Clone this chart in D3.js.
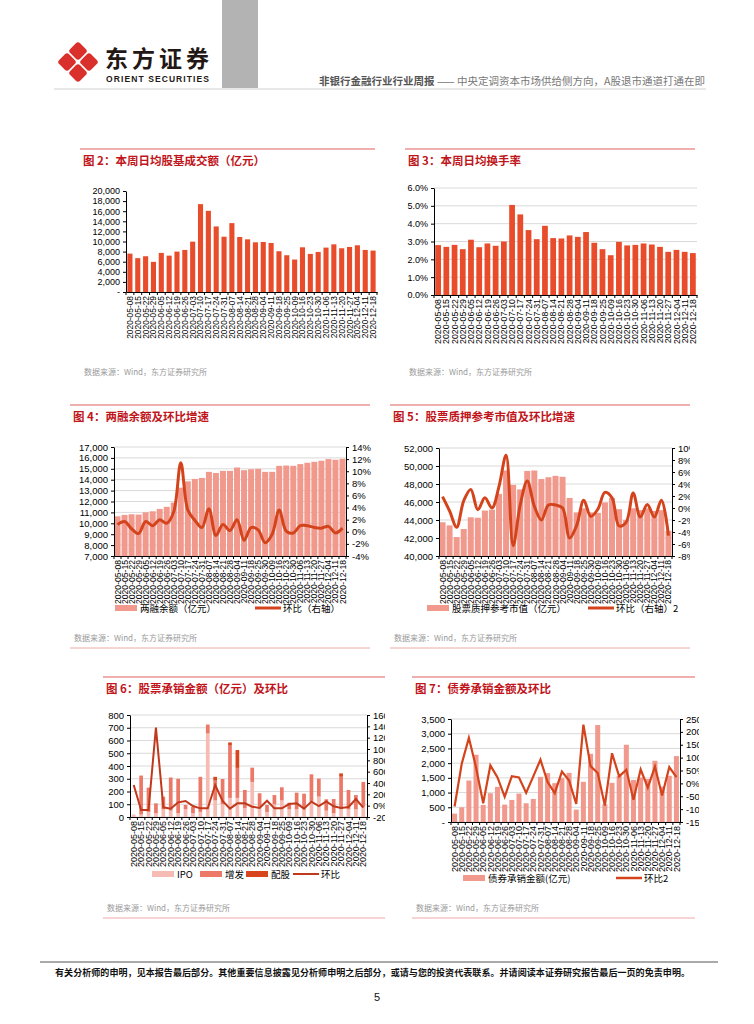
<!DOCTYPE html>
<html>
<head>
<meta charset="utf-8">
<script src="https://cdn.jsdelivr.net/npm/d3@7"></script>
<style>
body { margin: 0; background: #fff; }
</style>
</head>
<body>
<svg id="page" width="754" height="1024"></svg>
<script>
// weekly dates used on the x axes
const weeks = ["2020-05-08", "2020-05-15", "2020-05-22", "2020-05-29", "2020-06-05", "2020-06-12", "2020-06-19", "2020-06-26",
    "2020-07-03", "2020-07-10", "2020-07-17", "2020-07-24", "2020-07-31", "2020-08-07", "2020-08-14", "2020-08-21", "2020-08-28",
    "2020-09-04", "2020-09-11", "2020-09-18", "2020-09-25", "2020-10-09", "2020-10-16", "2020-10-23", "2020-10-30",
    "2020-11-06", "2020-11-13", "2020-11-20", "2020-11-27", "2020-12-04", "2020-12-11", "2020-12-18"];
const weeks33 = ["2020-05-08", "2020-05-15", "2020-05-22", "2020-05-29", "2020-06-05", "2020-06-12", "2020-06-19", "2020-06-26",
    "2020-07-03", "2020-07-10", "2020-07-17", "2020-07-24", "2020-07-31", "2020-08-07", "2020-08-14", "2020-08-21", "2020-08-28",
    "2020-09-04", "2020-09-11", "2020-09-18", "2020-09-25", "2020-09-30", "2020-10-09", "2020-10-16", "2020-10-23", "2020-10-30",
    "2020-11-06", "2020-11-13", "2020-11-20", "2020-11-27", "2020-12-04", "2020-12-11", "2020-12-18"];

// fig 2: daily average turnover (亿元)
const turnover = [7600, 6700, 7080, 5970, 7740, 7200, 8000, 8330, 9970, 17400, 16070, 12980, 10950, 13640, 10890, 10430,
    9840, 9900, 9700, 8070, 7280, 6430, 8850, 7540, 7930, 8790, 9440, 8660, 8920, 9250, 8330, 8200];
// fig 3: daily turnover rate (%)
const turnoverRate = [2.8, 2.7, 2.81, 2.57, 3.1, 2.68, 2.89, 2.76, 3.0, 5.05, 4.52, 3.64, 3.13, 3.88, 3.19, 3.17, 3.34,
    3.26, 3.53, 2.93, 2.57, 2.23, 2.98, 2.78, 2.81, 2.89, 2.83, 2.7, 2.42, 2.53, 2.42, 2.35];
// fig 4: margin balance (亿元) and week-on-week change (%)
const marginBal = [10640, 10770, 10830, 10800, 11010, 11100, 11320, 11510, 11900, 13270, 13850, 14070, 14160, 14720, 14620,
    14810, 14810, 15120, 14870, 14960, 14990, 14720, 14720, 15270, 15300, 15270, 15430, 15550, 15640, 15740, 15890, 15830, 15920];
const marginChg = [1.2, 1.7, 0.5, -0.3, 1.7, 1.0, 2.0, 1.4, 3.3, 11.4, 3.6, 1.9, 0.7, 3.8, -0.6, 1.2, 0.2, 2.0, -1.4, 0.7,
    0.3, -1.8, -0.4, 3.6, 0.1, -0.2, 1.0, 1.0, 0.7, 0.6, 0.9, -0.2, 0.6];
// fig 5: pledged stock market value (亿元) and change (%)
const pledgeVal = [43750, 43400, 42100, 43000, 44300, 44250, 45050, 45150, 46900, 49500, 47900, 47400, 49450, 49500, 48550,
    48750, 48900, 48800, 46450, 44850, 45300, 44850, 44800, 45950, 46450, 45200, 44000, 45300, 45100, 45300, 45000, 45100, 42800];
const pledgeChg = [1.9, -0.5, -3.2, 1.2, 3.1, -0.3, 1.7, 0.0, 3.6, 8.8, -6.3, 0.5, 4.5, 0.3, -2.0, 0.5, 0.5, 0.0, -5.0, -2.9,
    1.3, -1.4, -0.2, 2.6, 1.7, -3.0, -2.4, 2.5, -1.5, 0.6, -1.5, 1.3, -4.6];
// fig 6: equity underwriting (亿元) and change (%)
const ipo = [20, 20, 40, 30, 60, 50, 30, 60, 30, 40, 655, 130, 100, 150, 150, 70, 275, 80, 40, 100, 130, 60, 60, 70, 120, 160,
    50, 30, 60, 60, 60, 80];
const seo = [0, 305, 190, 77, 100, 260, 270, 35, 50, 275, 70, 155, 198, 410, 235, 142, 112, 106, 54, 72, 103, 52, 131, 113,
    215, 141, 89, 111, 256, 152, 112, 195];
const rights = [0, 0, 0, 0, 0, 0, 0, 0, 0, 0, 0, 30, 0, 25, 140, 0, 0, 0, 0, 0, 0, 0, 0, 0, 0, 0, 0, 0, 26, 0, 0, 0];
const equityChg = [365, -76, -76, 1376, -29, -53, 59, 82, -6, -47, -47, 365, 82, -53, 41, 41, -18, -41, 88, -47, -47, 29,
    41, -53, 71, -6, 76, -12, -41, -24, 118, -35];
// fig 7: bond underwriting (亿元) and change (%)
const bondUw = [284, 500, 1409, 2284, 580, 977, 1193, 591, 750, 966, 636, 784, 1534, 1659, 1320, 1490, 1670, 420, 1364, 2318,
    3295, 600, 1330, 1570, 2625, 1430, 1510, 1460, 2080, 1200, 1570, 2240];
const bondChg = [-90, 76, 177, 62, -77, 70, 23, -52, 28, 23, -37, 27, 92, 5, -38, 46, 11, -80, 228, 67, 40, -86, 117, 27,
    53, -64, 54, -16, 65, -47, 63, 24];

const sans = '"Liberation Sans", Arial, sans-serif';
const cjk = '"Noto Sans CJK SC", "Noto Sans CJK JP", sans-serif';
const RULE = "#e06060", TITLE = "#c0151b", BAR = "#e84c2b", BAR2 = "#f0998c", LINE = "#d4441c", GRID = "#d9d9d9";

const svg = d3.select("#page");

// ---------- page header ----------
svg.append("rect").attr("x", 222).attr("y", 0).attr("width", 36).attr("height", 88).attr("fill", "#b3b3b3");
const logo = svg.append("g").attr("transform", "translate(78,62)");
[[0, -11], [11, 0], [0, 11], [-11, 0]].forEach(p => {
    logo.append("rect")
        .attr("x", -7).attr("y", -7).attr("width", 14).attr("height", 14).attr("rx", 3)
        .attr("transform", `translate(${p[0]},${p[1]}) rotate(45)`)
        .attr("fill", "#d9302c");
});
svg.append("text").attr("x", 105).attr("y", 67).attr("font-family", cjk).attr("font-weight", "bold")
    .attr("font-size", 23).attr("fill", "#231815").attr("textLength", 104).text("东方证券");
svg.append("text").attr("x", 106).attr("y", 82).attr("font-family", sans).attr("font-weight", "bold")
    .attr("font-size", 8.5).attr("fill", "#231815").attr("textLength", 103).text("ORIENT SECURITIES");
svg.append("text").attr("x", 319).attr("y", 85).attr("font-family", cjk).attr("font-size", 10.5)
    .attr("textLength", 386)
    .html('<tspan fill="#555" font-weight="bold">非银行金融行业行业周报</tspan><tspan fill="#777"> —— 中央定调资本市场供给侧方向，A股退市通道打通在即</tspan>');
svg.append("line").attr("x1", 54).attr("x2", 706).attr("y1", 89).attr("y2", 89).attr("stroke", "#d0d0d0").attr("stroke-width", 1);

// ---------- footer ----------
svg.append("line").attr("x1", 40).attr("x2", 718).attr("y1", 962).attr("y2", 962).attr("stroke", "#555").attr("stroke-width", 1);
svg.append("text").attr("x", 55).attr("y", 976).attr("font-family", cjk).attr("font-weight", "bold").attr("font-size", 9)
    .attr("fill", "#111").attr("textLength", 635)
    .text("有关分析师的申明，见本报告最后部分。其他重要信息披露见分析师申明之后部分，或请与您的投资代表联系。并请阅读本证券研究报告最后一页的免责申明。");
svg.append("text").attr("x", 377).attr("y", 1001).attr("text-anchor", "middle").attr("font-family", sans)
    .attr("font-size", 11).attr("fill", "#111").text("5");

// panel frame: red rule, title, source line
function frame(x0, x1, y, title, srcY, bottomY) {
    svg.append("line").attr("x1", x0).attr("x2", x1).attr("y1", y).attr("y2", y).attr("stroke", RULE).attr("stroke-width", 1.2);
    svg.append("text").attr("x", x0 + 3).attr("y", y + 16).attr("font-family", cjk).attr("font-weight", "bold")
        .attr("font-size", 11.5).attr("fill", TITLE).text(title);
    svg.append("text").attr("x", x0 + 4).attr("y", srcY).attr("font-family", cjk).attr("font-size", 8)
        .attr("fill", "#9a9a9a").text("数据来源：Wind，东方证券研究所");
    if (bottomY) svg.append("line").attr("x1", x0).attr("x2", x1).attr("y1", bottomY).attr("y2", bottomY)
        .attr("stroke", "#eeaaaa").attr("stroke-width", 1);
}

// band x scale with Excel-like equal category widths
function bandX(labels, x0, x1, pad) {
    return d3.scaleBand().domain(labels).range([x0, x1]).paddingInner(pad).paddingOuter(pad / 2);
}

function drawXAxis(g, x, y0, fs) {
    const ax = g.append("g").attr("transform", `translate(0,${y0})`)
        .call(d3.axisBottom(x).tickSize(0).tickSizeOuter(0));
    ax.select(".domain").attr("stroke", "#000");
    ax.selectAll("text")
        .attr("y", 0).attr("x", -4).attr("dy", "0.35em")
        .attr("transform", "rotate(-90)")
        .style("text-anchor", "end")
        .attr("font-family", sans).attr("font-size", fs).attr("fill", "#000");
    // small ticks on category boundaries
    g.append("g").selectAll("line")
        .data(d3.range(x.domain().length + 1))
        .join("line")
        .attr("x1", i => x.range()[0] + i * x.step()).attr("x2", i => x.range()[0] + i * x.step())
        .attr("y1", y0).attr("y2", y0 + 3).attr("stroke", "#000");
}

function drawYAxis(g, y, x0, ticks, fmt, fs, right) {
    const axis = (right ? d3.axisRight(y) : d3.axisLeft(y)).tickValues(ticks).tickFormat(fmt).tickSize(3).tickSizeOuter(0);
    const ax = g.append("g").attr("transform", `translate(${x0},0)`).call(axis);
    ax.select(".domain").attr("stroke", "#000");
    ax.selectAll("line").attr("stroke", "#000");
    ax.selectAll("text").attr("font-family", sans).attr("font-size", fs).attr("fill", "#000");
}

function drawGrid(g, y, ticks, x0, x1) {
    g.append("g").selectAll("line").data(ticks).join("line")
        .attr("x1", x0).attr("x2", x1).attr("y1", d => y(d)).attr("y2", d => y(d))
        .attr("stroke", GRID).attr("stroke-width", 1);
}

function clipGroup(id, x, y, w, h) {
    svg.append("clipPath").attr("id", id).append("rect").attr("x", x).attr("y", y).attr("width", w).attr("height", h);
    return svg.append("g").attr("clip-path", `url(#${id})`);
}

const comma = d3.format(",");
const pct = d => d + "%";

// ---------- 图 2 ----------
frame(80, 375, 149, "图 2：本周日均股基成交额（亿元）", 375);
{
    const g = svg.append("g");
    const x = bandX(weeks, 126, 377, 0.35);
    const y = d3.scaleLinear().domain([0, 20000]).range([292, 191]);
    const yTicks = d3.range(0, 20001, 2000);
    g.selectAll(".bar2").data(turnover).join("rect").attr("class", "bar2")
        .attr("x", (d, i) => x(weeks[i])).attr("width", x.bandwidth())
        .attr("y", d => y(d)).attr("height", d => y(0) - y(d)).attr("fill", BAR);
    drawYAxis(g, y, 126, yTicks, d => d === 0 ? "-" : comma(d), 9);
    drawXAxis(g, x, 292, 8.4);
}

// ---------- 图 3 ----------
frame(405, 695, 149, "图 3：本周日均换手率", 375);
{
    const g = svg.append("g");
    const x = bandX(weeks, 434, 697, 0.3);
    const y = d3.scaleLinear().domain([0, 6]).range([295, 188]);
    const yTicks = d3.range(0, 7, 1);
    drawGrid(g, y, yTicks, 434, 697);
    g.selectAll(".bar3").data(turnoverRate).join("rect").attr("class", "bar3")
        .attr("x", (d, i) => x(weeks[i])).attr("width", x.bandwidth())
        .attr("y", d => y(d)).attr("height", d => y(0) - y(d)).attr("fill", BAR);
    drawYAxis(g, y, 434, yTicks, d => d.toFixed(1) + "%", 9);
    drawXAxis(g, x, 295, 8.8);
}

// legend helpers
function legendBar(g, x, y, color, label) {
    g.append("rect").attr("x", x).attr("y", y - 3).attr("width", 22).attr("height", 6).attr("fill", color);
    g.append("text").attr("x", x + 25).attr("y", y + 3.5).attr("font-family", cjk).attr("font-size", 9.5)
        .attr("fill", "#000").text(label);
}
function legendLine(g, x, y, color, w, label) {
    g.append("line").attr("x1", x).attr("x2", x + 26).attr("y1", y).attr("y2", y).attr("stroke", color).attr("stroke-width", w);
    g.append("text").attr("x", x + 28).attr("y", y + 3.5).attr("font-family", cjk).attr("font-size", 9.5)
        .attr("fill", "#000").text(label);
}

// ---------- 图 4 ----------
frame(70, 370, 405, "图 4：两融余额及环比增速", 641, 648);
{
    const g = clipGroup("c4", 60, 420, 312, 200);
    const x = bandX(weeks33, 114, 346, 0.15);
    const y = d3.scaleLinear().domain([7000, 17000]).range([556, 447]);
    const y2 = d3.scaleLinear().domain([-4, 14]).range([556, 447]);
    const yTicks = d3.range(7000, 17001, 1000);
    drawGrid(g, y, yTicks, 114, 346);
    g.selectAll(".bar4").data(marginBal).join("rect").attr("class", "bar4")
        .attr("x", (d, i) => x(weeks33[i])).attr("width", x.bandwidth())
        .attr("y", d => y(d)).attr("height", d => y(7000) - y(d)).attr("fill", BAR2);
    g.append("path").datum(marginChg)
        .attr("d", d3.line().x((d, i) => x(weeks33[i]) + x.bandwidth() / 2).y(d => y2(d)).curve(d3.curveCatmullRom))
        .attr("fill", "none").attr("stroke", LINE).attr("stroke-width", 3);
    drawYAxis(g, y, 114, yTicks, comma, 9.5);
    drawYAxis(g, y2, 346, d3.range(-4, 15, 2), pct, 9.5, true);
    drawXAxis(g, x, 556, 8.6);
    legendBar(g, 115, 608, BAR2, "两融余额（亿元）");
    legendLine(g, 255, 608, LINE, 3, "环比（右轴）");
}

// ---------- 图 5 ----------
frame(390, 690, 405, "图 5：股票质押参考市值及环比增速", 641, 648);
{
    const g = clipGroup("c5", 380, 420, 310, 200);
    const x = bandX(weeks33, 439, 672, 0.15);
    const y = d3.scaleLinear().domain([40000, 52000]).range([556, 448]);
    const y2 = d3.scaleLinear().domain([-8, 10]).range([556, 448]);
    const yTicks = d3.range(40000, 52001, 2000);
    drawGrid(g, y, yTicks, 439, 672);
    g.selectAll(".bar5").data(pledgeVal).join("rect").attr("class", "bar5")
        .attr("x", (d, i) => x(weeks33[i])).attr("width", x.bandwidth())
        .attr("y", d => y(d)).attr("height", d => y(40000) - y(d)).attr("fill", BAR2);
    g.append("path").datum(pledgeChg)
        .attr("d", d3.line().x((d, i) => x(weeks33[i]) + x.bandwidth() / 2).y(d => y2(d)).curve(d3.curveCatmullRom))
        .attr("fill", "none").attr("stroke", LINE).attr("stroke-width", 3);
    drawYAxis(g, y, 439, yTicks, comma, 9.5);
    drawYAxis(g, y2, 672, d3.range(-8, 11, 2), pct, 9.5, true);
    drawXAxis(g, x, 556, 8.6);
    legendBar(g, 427, 608, BAR2, "股票质押参考市值（亿元）");
    legendLine(g, 588, 608, LINE, 3, "环比（右轴）2");
}

// ---------- 图 6 ----------
frame(103, 385, 677, "图 6：股票承销金额（亿元）及环比", 911, 918);
{
    const g = clipGroup("c6", 95, 690, 290, 200);
    const x = bandX(weeks, 130, 367, 0.5);
    const y = d3.scaleLinear().domain([0, 800]).range([817, 715]);
    const y2 = d3.scaleLinear().domain([-200, 1600]).range([817, 715]);
    const yTicks = d3.range(0, 801, 100);
    drawGrid(g, y, yTicks, 130, 367);
    const keys = ["ipo", "seo", "rights"];
    const rows = weeks.map((w, i) => ({ week: w, ipo: ipo[i], seo: seo[i], rights: rights[i] }));
    const colors = { ipo: "#f6bbb3", seo: "#ec7868", rights: "#d8441c" };
    const stacked = d3.stack().keys(keys)(rows);
    g.selectAll(".layer6").data(stacked).join("g").attr("class", "layer6").attr("fill", d => colors[d.key])
        .selectAll("rect").data(d => d).join("rect")
        .attr("x", d => x(d.data.week)).attr("width", x.bandwidth())
        .attr("y", d => y(d[1])).attr("height", d => y(d[0]) - y(d[1]));
    g.append("path").datum(equityChg)
        .attr("d", d3.line().x((d, i) => x(weeks[i]) + x.bandwidth() / 2).y(d => y2(d)))
        .attr("fill", "none").attr("stroke", "#c0391b").attr("stroke-width", 2);
    drawYAxis(g, y, 130, yTicks, d => d, 9.5);
    drawYAxis(g, y2, 367, d3.range(-200, 1601, 200), pct, 9.5, true);
    drawXAxis(g, x, 817, 9);
    legendBar(g, 152, 874, colors.ipo, "IPO");
    legendBar(g, 200, 874, colors.seo, "增发");
    legendBar(g, 246, 874, colors.rights, "配股");
    legendLine(g, 293, 874, "#c0391b", 2, "环比");
}

// ---------- 图 7 ----------
frame(412, 695, 677, "图 7：债券承销金额及环比", 911, 918);
{
    const g = clipGroup("c7", 405, 690, 294, 200);
    const x = bandX(weeks, 451, 680, 0.3);
    const y = d3.scaleLinear().domain([0, 3500]).range([822, 719]);
    const y2 = d3.scaleLinear().domain([-150, 250]).range([822, 719]);
    const yTicks = d3.range(0, 3501, 500);
    drawGrid(g, y, yTicks, 451, 680);
    g.selectAll(".bar7").data(bondUw).join("rect").attr("class", "bar7")
        .attr("x", (d, i) => x(weeks[i])).attr("width", x.bandwidth())
        .attr("y", d => y(d)).attr("height", d => y(0) - y(d)).attr("fill", BAR2);
    g.append("path").datum(bondChg)
        .attr("d", d3.line().x((d, i) => x(weeks[i]) + x.bandwidth() / 2).y(d => y2(d)))
        .attr("fill", "none").attr("stroke", LINE).attr("stroke-width", 2.2);
    drawYAxis(g, y, 451, yTicks, d => d === 0 ? "-" : comma(d), 9.5);
    drawYAxis(g, y2, 680, d3.range(-150, 251, 50), pct, 9.5, true);
    drawXAxis(g, x, 822, 9);
    legendBar(g, 463, 878, BAR2, "债券承销金额(亿元)");
    legendLine(g, 616, 878, LINE, 2.5, "环比2");
}
</script>
</body>
</html>
